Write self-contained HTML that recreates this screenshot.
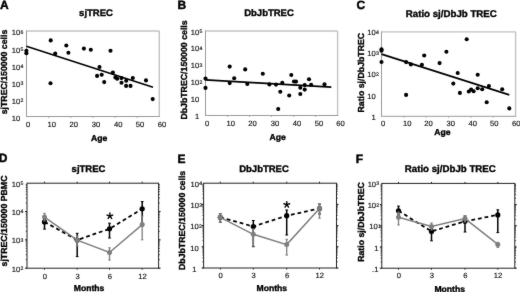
<!DOCTYPE html>
<html><head><meta charset="utf-8"><style>
html,body{margin:0;padding:0;background:#fff;}
svg{display:block;font-family:"Liberation Sans", sans-serif;text-rendering:geometricPrecision;}
</style></head><body>
<svg xmlns="http://www.w3.org/2000/svg" width="520" height="292" viewBox="0 0 520 292">
<defs><filter id="soft" color-interpolation-filters="sRGB" filterUnits="userSpaceOnUse" x="-10" y="-10" width="540" height="312"><feConvolveMatrix order="3" kernelMatrix="1 2 1 2 36 2 1 2 1" edgeMode="duplicate" preserveAlpha="true"/></filter></defs>
<rect width="520" height="292" fill="#fff"/>
<g filter="url(#soft)">
<rect x="-10" y="-10" width="540" height="312" fill="#fff"/>
<text x="0.00" y="8.50" font-size="12.0" font-weight="bold" text-anchor="start" fill="#000" stroke="#000" stroke-width="0.45">A</text>
<text x="177.60" y="8.50" font-size="12.0" font-weight="bold" text-anchor="start" fill="#000" stroke="#000" stroke-width="0.45">B</text>
<text x="356.60" y="8.50" font-size="12.0" font-weight="bold" text-anchor="start" fill="#000" stroke="#000" stroke-width="0.45">C</text>
<text x="-1.30" y="162.30" font-size="12.0" font-weight="bold" text-anchor="start" fill="#000" stroke="#000" stroke-width="0.45">D</text>
<text x="177.50" y="163.00" font-size="12.0" font-weight="bold" text-anchor="start" fill="#000" stroke="#000" stroke-width="0.45">E</text>
<text x="355.70" y="163.30" font-size="12.0" font-weight="bold" text-anchor="start" fill="#000" stroke="#000" stroke-width="0.45">F</text>
<text x="96.00" y="16.10" font-size="9.5" font-weight="bold" text-anchor="middle" fill="#000" stroke="#000" stroke-width="0.35" >sjTREC</text>
<text x="269.00" y="16.30" font-size="9.5" font-weight="bold" text-anchor="middle" fill="#000" stroke="#000" stroke-width="0.35" >DbJbTREC</text>
<text x="451.30" y="16.50" font-size="9.7" font-weight="bold" text-anchor="middle" fill="#000" stroke="#000" stroke-width="0.35" >Ratio sj/DbJb TREC</text>
<text x="88.50" y="172.10" font-size="9.5" font-weight="bold" text-anchor="middle" fill="#000" stroke="#000" stroke-width="0.35" >sjTREC</text>
<text x="264.00" y="172.00" font-size="9.5" font-weight="bold" text-anchor="middle" fill="#000" stroke="#000" stroke-width="0.35" >DbJbTREC</text>
<text x="450.30" y="172.40" font-size="9.7" font-weight="bold" text-anchor="middle" fill="#000" stroke="#000" stroke-width="0.35" >Ratio sj/DbJb TREC</text>
<text x="0" y="0" font-size="8.75" font-weight="bold" text-anchor="middle" stroke="#000" stroke-width="0.35" transform="translate(6.90,72.00) rotate(-90)">sjTREC/150000 cells</text>
<text x="0" y="0" font-size="8.75" font-weight="bold" text-anchor="middle" stroke="#000" stroke-width="0.35" transform="translate(187.40,70.00) rotate(-90)">DbJbTREC/150000 cells</text>
<text x="0" y="0" font-size="8.75" font-weight="bold" text-anchor="middle" stroke="#000" stroke-width="0.35" transform="translate(364.00,72.70) rotate(-90)">Ratio sj/DbJbTREC</text>
<text x="0" y="0" font-size="8.75" font-weight="bold" text-anchor="middle" stroke="#000" stroke-width="0.35" transform="translate(7.00,221.00) rotate(-90)">sjTREC/150000 PBMC</text>
<text x="0" y="0" font-size="8.75" font-weight="bold" text-anchor="middle" stroke="#000" stroke-width="0.35" transform="translate(185.00,220.40) rotate(-90)">DbJbTREC/150000 cells</text>
<text x="0" y="0" font-size="8.75" font-weight="bold" text-anchor="middle" stroke="#000" stroke-width="0.35" transform="translate(364.00,222.00) rotate(-90)">Ratio sj/DbJbTREC</text>
<text x="99.20" y="140.60" font-size="8.6" font-weight="bold" text-anchor="middle" fill="#000" stroke="#000" stroke-width="0.35" >Age</text>
<text x="277.70" y="139.90" font-size="8.6" font-weight="bold" text-anchor="middle" fill="#000" stroke="#000" stroke-width="0.35" >Age</text>
<text x="442.30" y="135.40" font-size="8.6" font-weight="bold" text-anchor="middle" fill="#000" stroke="#000" stroke-width="0.35" >Age</text>
<text x="89.00" y="290.80" font-size="8.6" font-weight="bold" text-anchor="middle" fill="#000" stroke="#000" stroke-width="0.35" >Months</text>
<text x="271.80" y="291.00" font-size="8.6" font-weight="bold" text-anchor="middle" fill="#000" stroke="#000" stroke-width="0.35" >Months</text>
<text x="449.70" y="291.50" font-size="8.6" font-weight="bold" text-anchor="middle" fill="#000" stroke="#000" stroke-width="0.35" >Months</text>
<line x1="26.50" y1="31.00" x2="159.30" y2="31.00" stroke="#c2c2c2" stroke-width="1.4" />
<line x1="159.30" y1="31.00" x2="159.30" y2="116.50" stroke="#c2c2c2" stroke-width="1.4" />
<line x1="26.50" y1="30.50" x2="26.50" y2="116.50" stroke="#9a9a9a" stroke-width="1" />
<line x1="26.00" y1="116.50" x2="159.80" y2="116.50" stroke="#9a9a9a" stroke-width="1" />
<line x1="48.63" y1="116.50" x2="48.63" y2="118.00" stroke="#9a9a9a" stroke-width="0.8" />
<line x1="70.77" y1="116.50" x2="70.77" y2="118.00" stroke="#9a9a9a" stroke-width="0.8" />
<line x1="92.90" y1="116.50" x2="92.90" y2="118.00" stroke="#9a9a9a" stroke-width="0.8" />
<line x1="115.03" y1="116.50" x2="115.03" y2="118.00" stroke="#9a9a9a" stroke-width="0.8" />
<line x1="137.17" y1="116.50" x2="137.17" y2="118.00" stroke="#9a9a9a" stroke-width="0.8" />
<line x1="205.50" y1="31.00" x2="337.60" y2="31.00" stroke="#c2c2c2" stroke-width="1.4" />
<line x1="337.60" y1="31.00" x2="337.60" y2="115.50" stroke="#c2c2c2" stroke-width="1.4" />
<line x1="205.50" y1="30.50" x2="205.50" y2="115.50" stroke="#9a9a9a" stroke-width="1" />
<line x1="205.00" y1="115.50" x2="338.10" y2="115.50" stroke="#9a9a9a" stroke-width="1" />
<line x1="227.52" y1="115.50" x2="227.52" y2="117.00" stroke="#9a9a9a" stroke-width="0.8" />
<line x1="249.53" y1="115.50" x2="249.53" y2="117.00" stroke="#9a9a9a" stroke-width="0.8" />
<line x1="271.55" y1="115.50" x2="271.55" y2="117.00" stroke="#9a9a9a" stroke-width="0.8" />
<line x1="293.57" y1="115.50" x2="293.57" y2="117.00" stroke="#9a9a9a" stroke-width="0.8" />
<line x1="315.58" y1="115.50" x2="315.58" y2="117.00" stroke="#9a9a9a" stroke-width="0.8" />
<line x1="381.50" y1="31.90" x2="515.60" y2="31.90" stroke="#c2c2c2" stroke-width="1.4" />
<line x1="515.60" y1="31.90" x2="515.60" y2="116.30" stroke="#c2c2c2" stroke-width="1.4" />
<line x1="381.50" y1="31.40" x2="381.50" y2="116.30" stroke="#9a9a9a" stroke-width="1" />
<line x1="381.00" y1="116.30" x2="516.10" y2="116.30" stroke="#9a9a9a" stroke-width="1" />
<line x1="403.85" y1="116.30" x2="403.85" y2="117.80" stroke="#9a9a9a" stroke-width="0.8" />
<line x1="426.20" y1="116.30" x2="426.20" y2="117.80" stroke="#9a9a9a" stroke-width="0.8" />
<line x1="448.55" y1="116.30" x2="448.55" y2="117.80" stroke="#9a9a9a" stroke-width="0.8" />
<line x1="470.90" y1="116.30" x2="470.90" y2="117.80" stroke="#9a9a9a" stroke-width="0.8" />
<line x1="493.25" y1="116.30" x2="493.25" y2="117.80" stroke="#9a9a9a" stroke-width="0.8" />
<text x="28.10" y="126.60" font-size="7.6" text-anchor="middle" fill="#111" stroke="#111" stroke-width="0.15" >0</text>
<text x="51.85" y="126.60" font-size="7.6" text-anchor="middle" fill="#111" stroke="#111" stroke-width="0.15" >10</text>
<text x="73.70" y="126.60" font-size="7.6" text-anchor="middle" fill="#111" stroke="#111" stroke-width="0.15" >20</text>
<text x="96.10" y="126.60" font-size="7.6" text-anchor="middle" fill="#111" stroke="#111" stroke-width="0.15" >30</text>
<text x="118.20" y="126.60" font-size="7.6" text-anchor="middle" fill="#111" stroke="#111" stroke-width="0.15" >40</text>
<text x="140.00" y="126.60" font-size="7.6" text-anchor="middle" fill="#111" stroke="#111" stroke-width="0.15" >50</text>
<text x="162.00" y="126.60" font-size="7.6" text-anchor="middle" fill="#111" stroke="#111" stroke-width="0.15" >60</text>
<text x="207.15" y="126.10" font-size="7.6" text-anchor="middle" fill="#111" stroke="#111" stroke-width="0.15" >0</text>
<text x="230.80" y="126.10" font-size="7.6" text-anchor="middle" fill="#111" stroke="#111" stroke-width="0.15" >10</text>
<text x="252.50" y="126.10" font-size="7.6" text-anchor="middle" fill="#111" stroke="#111" stroke-width="0.15" >20</text>
<text x="275.00" y="126.10" font-size="7.6" text-anchor="middle" fill="#111" stroke="#111" stroke-width="0.15" >30</text>
<text x="296.90" y="126.10" font-size="7.6" text-anchor="middle" fill="#111" stroke="#111" stroke-width="0.15" >40</text>
<text x="319.10" y="126.10" font-size="7.6" text-anchor="middle" fill="#111" stroke="#111" stroke-width="0.15" >50</text>
<text x="340.60" y="126.10" font-size="7.6" text-anchor="middle" fill="#111" stroke="#111" stroke-width="0.15" >60</text>
<text x="383.10" y="125.90" font-size="7.6" text-anchor="middle" fill="#111" stroke="#111" stroke-width="0.15" >0</text>
<text x="407.20" y="125.90" font-size="7.6" text-anchor="middle" fill="#111" stroke="#111" stroke-width="0.15" >10</text>
<text x="428.40" y="125.90" font-size="7.6" text-anchor="middle" fill="#111" stroke="#111" stroke-width="0.15" >20</text>
<text x="450.80" y="125.90" font-size="7.6" text-anchor="middle" fill="#111" stroke="#111" stroke-width="0.15" >30</text>
<text x="472.70" y="125.90" font-size="7.6" text-anchor="middle" fill="#111" stroke="#111" stroke-width="0.15" >40</text>
<text x="494.20" y="125.90" font-size="7.6" text-anchor="middle" fill="#111" stroke="#111" stroke-width="0.15" >50</text>
<text x="516.20" y="125.90" font-size="7.6" text-anchor="middle" fill="#111" stroke="#111" stroke-width="0.15" >60</text>
<text x="20.20" y="35.40" font-size="7.6" text-anchor="end" fill="#111" stroke="#111" stroke-width="0.15" >10</text>
<text x="20.40" y="33.90" font-size="5.2" text-anchor="start" fill="#111" stroke="#111" stroke-width="0.15" >6</text>
<text x="20.20" y="52.50" font-size="7.6" text-anchor="end" fill="#111" stroke="#111" stroke-width="0.15" >10</text>
<text x="20.40" y="51.00" font-size="5.2" text-anchor="start" fill="#111" stroke="#111" stroke-width="0.15" >5</text>
<text x="20.20" y="69.60" font-size="7.6" text-anchor="end" fill="#111" stroke="#111" stroke-width="0.15" >10</text>
<text x="20.40" y="68.10" font-size="5.2" text-anchor="start" fill="#111" stroke="#111" stroke-width="0.15" >4</text>
<text x="20.20" y="86.70" font-size="7.6" text-anchor="end" fill="#111" stroke="#111" stroke-width="0.15" >10</text>
<text x="20.40" y="85.20" font-size="5.2" text-anchor="start" fill="#111" stroke="#111" stroke-width="0.15" >3</text>
<text x="20.20" y="103.80" font-size="7.6" text-anchor="end" fill="#111" stroke="#111" stroke-width="0.15" >10</text>
<text x="20.40" y="102.30" font-size="5.2" text-anchor="start" fill="#111" stroke="#111" stroke-width="0.15" >2</text>
<text x="20.20" y="120.90" font-size="7.6" text-anchor="end" fill="#111" stroke="#111" stroke-width="0.15" >10</text>
<text x="199.20" y="34.50" font-size="7.6" text-anchor="end" fill="#111" stroke="#111" stroke-width="0.15" >10</text>
<text x="199.40" y="33.00" font-size="5.2" text-anchor="start" fill="#111" stroke="#111" stroke-width="0.15" >5</text>
<text x="199.20" y="51.40" font-size="7.6" text-anchor="end" fill="#111" stroke="#111" stroke-width="0.15" >10</text>
<text x="199.40" y="49.90" font-size="5.2" text-anchor="start" fill="#111" stroke="#111" stroke-width="0.15" >4</text>
<text x="199.20" y="68.30" font-size="7.6" text-anchor="end" fill="#111" stroke="#111" stroke-width="0.15" >10</text>
<text x="199.40" y="66.80" font-size="5.2" text-anchor="start" fill="#111" stroke="#111" stroke-width="0.15" >3</text>
<text x="199.20" y="85.20" font-size="7.6" text-anchor="end" fill="#111" stroke="#111" stroke-width="0.15" >10</text>
<text x="199.40" y="83.70" font-size="5.2" text-anchor="start" fill="#111" stroke="#111" stroke-width="0.15" >2</text>
<text x="199.20" y="102.10" font-size="7.6" text-anchor="end" fill="#111" stroke="#111" stroke-width="0.15" >10</text>
<text x="199.20" y="119.00" font-size="7.6" text-anchor="end" fill="#111" stroke="#111" stroke-width="0.15" >1</text>
<text x="375.80" y="35.20" font-size="7.6" text-anchor="end" fill="#111" stroke="#111" stroke-width="0.15" >10</text>
<text x="376.00" y="33.70" font-size="5.2" text-anchor="start" fill="#111" stroke="#111" stroke-width="0.15" >4</text>
<text x="375.80" y="56.30" font-size="7.6" text-anchor="end" fill="#111" stroke="#111" stroke-width="0.15" >10</text>
<text x="376.00" y="54.80" font-size="5.2" text-anchor="start" fill="#111" stroke="#111" stroke-width="0.15" >3</text>
<text x="375.80" y="77.40" font-size="7.6" text-anchor="end" fill="#111" stroke="#111" stroke-width="0.15" >10</text>
<text x="376.00" y="75.90" font-size="5.2" text-anchor="start" fill="#111" stroke="#111" stroke-width="0.15" >2</text>
<text x="375.80" y="98.50" font-size="7.6" text-anchor="end" fill="#111" stroke="#111" stroke-width="0.15" >10</text>
<text x="375.80" y="119.60" font-size="7.6" text-anchor="end" fill="#111" stroke="#111" stroke-width="0.15" >1</text>
<circle cx="26.40" cy="50.80" r="2.05" fill="#000"/>
<circle cx="26.40" cy="53.20" r="2.05" fill="#000"/>
<circle cx="50.70" cy="40.40" r="2.05" fill="#000"/>
<circle cx="50.50" cy="83.30" r="2.05" fill="#000"/>
<circle cx="55.20" cy="53.60" r="2.05" fill="#000"/>
<circle cx="66.30" cy="45.50" r="2.05" fill="#000"/>
<circle cx="68.40" cy="52.80" r="2.05" fill="#000"/>
<circle cx="83.90" cy="48.60" r="2.05" fill="#000"/>
<circle cx="90.80" cy="49.80" r="2.05" fill="#000"/>
<circle cx="97.10" cy="75.90" r="2.05" fill="#000"/>
<circle cx="99.50" cy="67.00" r="2.05" fill="#000"/>
<circle cx="101.70" cy="74.70" r="2.05" fill="#000"/>
<circle cx="104.20" cy="82.10" r="2.05" fill="#000"/>
<circle cx="110.50" cy="50.80" r="2.05" fill="#000"/>
<circle cx="112.90" cy="72.50" r="2.05" fill="#000"/>
<circle cx="115.40" cy="77.40" r="2.05" fill="#000"/>
<circle cx="117.20" cy="78.80" r="2.05" fill="#000"/>
<circle cx="121.40" cy="78.10" r="2.05" fill="#000"/>
<circle cx="121.50" cy="82.80" r="2.05" fill="#000"/>
<circle cx="126.20" cy="80.70" r="2.05" fill="#000"/>
<circle cx="126.10" cy="85.90" r="2.05" fill="#000"/>
<circle cx="130.50" cy="85.90" r="2.05" fill="#000"/>
<circle cx="132.80" cy="78.00" r="2.05" fill="#000"/>
<circle cx="146.00" cy="80.40" r="2.05" fill="#000"/>
<circle cx="152.70" cy="99.10" r="2.05" fill="#000"/>
<circle cx="205.50" cy="78.60" r="2.05" fill="#000"/>
<circle cx="205.50" cy="87.90" r="2.05" fill="#000"/>
<circle cx="229.70" cy="66.60" r="2.05" fill="#000"/>
<circle cx="229.70" cy="83.10" r="2.05" fill="#000"/>
<circle cx="234.20" cy="78.30" r="2.05" fill="#000"/>
<circle cx="245.20" cy="69.40" r="2.05" fill="#000"/>
<circle cx="247.30" cy="84.00" r="2.05" fill="#000"/>
<circle cx="262.80" cy="73.70" r="2.05" fill="#000"/>
<circle cx="269.40" cy="84.40" r="2.05" fill="#000"/>
<circle cx="276.00" cy="84.60" r="2.05" fill="#000"/>
<circle cx="278.20" cy="109.00" r="2.05" fill="#000"/>
<circle cx="280.30" cy="91.70" r="2.05" fill="#000"/>
<circle cx="282.30" cy="82.80" r="2.05" fill="#000"/>
<circle cx="289.20" cy="95.50" r="2.05" fill="#000"/>
<circle cx="291.30" cy="75.00" r="2.05" fill="#000"/>
<circle cx="294.00" cy="81.50" r="2.05" fill="#000"/>
<circle cx="296.00" cy="81.60" r="2.05" fill="#000"/>
<circle cx="300.30" cy="87.70" r="2.05" fill="#000"/>
<circle cx="300.30" cy="94.00" r="2.05" fill="#000"/>
<circle cx="304.70" cy="85.10" r="2.05" fill="#000"/>
<circle cx="304.70" cy="89.60" r="2.05" fill="#000"/>
<circle cx="309.00" cy="79.30" r="2.05" fill="#000"/>
<circle cx="311.10" cy="84.80" r="2.05" fill="#000"/>
<circle cx="324.50" cy="84.20" r="2.05" fill="#000"/>
<circle cx="381.50" cy="49.30" r="2.05" fill="#000"/>
<circle cx="381.50" cy="50.70" r="2.05" fill="#000"/>
<circle cx="381.50" cy="62.00" r="2.05" fill="#000"/>
<circle cx="406.10" cy="62.10" r="2.05" fill="#000"/>
<circle cx="410.90" cy="64.40" r="2.05" fill="#000"/>
<circle cx="421.90" cy="64.70" r="2.05" fill="#000"/>
<circle cx="424.20" cy="55.50" r="2.05" fill="#000"/>
<circle cx="406.10" cy="94.90" r="2.05" fill="#000"/>
<circle cx="439.60" cy="63.10" r="2.05" fill="#000"/>
<circle cx="446.40" cy="51.80" r="2.05" fill="#000"/>
<circle cx="466.70" cy="39.30" r="2.05" fill="#000"/>
<circle cx="457.70" cy="73.00" r="2.05" fill="#000"/>
<circle cx="453.30" cy="83.60" r="2.05" fill="#000"/>
<circle cx="459.90" cy="92.90" r="2.05" fill="#000"/>
<circle cx="468.80" cy="91.50" r="2.05" fill="#000"/>
<circle cx="471.10" cy="89.50" r="2.05" fill="#000"/>
<circle cx="473.60" cy="91.20" r="2.05" fill="#000"/>
<circle cx="477.70" cy="74.80" r="2.05" fill="#000"/>
<circle cx="477.70" cy="88.30" r="2.05" fill="#000"/>
<circle cx="482.20" cy="89.20" r="2.05" fill="#000"/>
<circle cx="488.90" cy="86.10" r="2.05" fill="#000"/>
<circle cx="502.20" cy="89.30" r="2.05" fill="#000"/>
<circle cx="486.70" cy="102.20" r="2.05" fill="#000"/>
<circle cx="509.30" cy="108.40" r="2.05" fill="#000"/>
<line x1="26.40" y1="46.30" x2="153.00" y2="87.30" stroke="#000" stroke-width="1.7" />
<line x1="205.50" y1="79.90" x2="331.30" y2="87.10" stroke="#000" stroke-width="1.7" />
<line x1="381.50" y1="54.10" x2="509.30" y2="94.90" stroke="#000" stroke-width="1.7" />
<rect x="27.00" y="183.20" width="131.60" height="85.00" fill="none" stroke="#222" stroke-width="1"/>
<line x1="25.80" y1="268.20" x2="27.00" y2="268.20" stroke="#222" stroke-width="0.8" />
<line x1="158.60" y1="268.20" x2="159.80" y2="268.20" stroke="#222" stroke-width="0.8" />
<line x1="25.80" y1="259.67" x2="27.00" y2="259.67" stroke="#222" stroke-width="0.8" />
<line x1="158.60" y1="259.67" x2="159.80" y2="259.67" stroke="#222" stroke-width="0.8" />
<line x1="25.80" y1="254.68" x2="27.00" y2="254.68" stroke="#222" stroke-width="0.8" />
<line x1="158.60" y1="254.68" x2="159.80" y2="254.68" stroke="#222" stroke-width="0.8" />
<line x1="25.80" y1="251.14" x2="27.00" y2="251.14" stroke="#222" stroke-width="0.8" />
<line x1="158.60" y1="251.14" x2="159.80" y2="251.14" stroke="#222" stroke-width="0.8" />
<line x1="25.80" y1="248.40" x2="27.00" y2="248.40" stroke="#222" stroke-width="0.8" />
<line x1="158.60" y1="248.40" x2="159.80" y2="248.40" stroke="#222" stroke-width="0.8" />
<line x1="25.80" y1="246.15" x2="27.00" y2="246.15" stroke="#222" stroke-width="0.8" />
<line x1="158.60" y1="246.15" x2="159.80" y2="246.15" stroke="#222" stroke-width="0.8" />
<line x1="25.80" y1="244.26" x2="27.00" y2="244.26" stroke="#222" stroke-width="0.8" />
<line x1="158.60" y1="244.26" x2="159.80" y2="244.26" stroke="#222" stroke-width="0.8" />
<line x1="25.80" y1="242.61" x2="27.00" y2="242.61" stroke="#222" stroke-width="0.8" />
<line x1="158.60" y1="242.61" x2="159.80" y2="242.61" stroke="#222" stroke-width="0.8" />
<line x1="25.80" y1="241.16" x2="27.00" y2="241.16" stroke="#222" stroke-width="0.8" />
<line x1="158.60" y1="241.16" x2="159.80" y2="241.16" stroke="#222" stroke-width="0.8" />
<line x1="25.00" y1="268.20" x2="27.00" y2="268.20" stroke="#222" stroke-width="1" />
<line x1="158.60" y1="268.20" x2="160.60" y2="268.20" stroke="#222" stroke-width="1" />
<line x1="25.80" y1="239.87" x2="27.00" y2="239.87" stroke="#222" stroke-width="0.8" />
<line x1="158.60" y1="239.87" x2="159.80" y2="239.87" stroke="#222" stroke-width="0.8" />
<line x1="25.80" y1="231.34" x2="27.00" y2="231.34" stroke="#222" stroke-width="0.8" />
<line x1="158.60" y1="231.34" x2="159.80" y2="231.34" stroke="#222" stroke-width="0.8" />
<line x1="25.80" y1="226.35" x2="27.00" y2="226.35" stroke="#222" stroke-width="0.8" />
<line x1="158.60" y1="226.35" x2="159.80" y2="226.35" stroke="#222" stroke-width="0.8" />
<line x1="25.80" y1="222.81" x2="27.00" y2="222.81" stroke="#222" stroke-width="0.8" />
<line x1="158.60" y1="222.81" x2="159.80" y2="222.81" stroke="#222" stroke-width="0.8" />
<line x1="25.80" y1="220.06" x2="27.00" y2="220.06" stroke="#222" stroke-width="0.8" />
<line x1="158.60" y1="220.06" x2="159.80" y2="220.06" stroke="#222" stroke-width="0.8" />
<line x1="25.80" y1="217.82" x2="27.00" y2="217.82" stroke="#222" stroke-width="0.8" />
<line x1="158.60" y1="217.82" x2="159.80" y2="217.82" stroke="#222" stroke-width="0.8" />
<line x1="25.80" y1="215.92" x2="27.00" y2="215.92" stroke="#222" stroke-width="0.8" />
<line x1="158.60" y1="215.92" x2="159.80" y2="215.92" stroke="#222" stroke-width="0.8" />
<line x1="25.80" y1="214.28" x2="27.00" y2="214.28" stroke="#222" stroke-width="0.8" />
<line x1="158.60" y1="214.28" x2="159.80" y2="214.28" stroke="#222" stroke-width="0.8" />
<line x1="25.80" y1="212.83" x2="27.00" y2="212.83" stroke="#222" stroke-width="0.8" />
<line x1="158.60" y1="212.83" x2="159.80" y2="212.83" stroke="#222" stroke-width="0.8" />
<line x1="25.00" y1="239.87" x2="27.00" y2="239.87" stroke="#222" stroke-width="1" />
<line x1="158.60" y1="239.87" x2="160.60" y2="239.87" stroke="#222" stroke-width="1" />
<line x1="25.80" y1="211.53" x2="27.00" y2="211.53" stroke="#222" stroke-width="0.8" />
<line x1="158.60" y1="211.53" x2="159.80" y2="211.53" stroke="#222" stroke-width="0.8" />
<line x1="25.80" y1="203.00" x2="27.00" y2="203.00" stroke="#222" stroke-width="0.8" />
<line x1="158.60" y1="203.00" x2="159.80" y2="203.00" stroke="#222" stroke-width="0.8" />
<line x1="25.80" y1="198.01" x2="27.00" y2="198.01" stroke="#222" stroke-width="0.8" />
<line x1="158.60" y1="198.01" x2="159.80" y2="198.01" stroke="#222" stroke-width="0.8" />
<line x1="25.80" y1="194.47" x2="27.00" y2="194.47" stroke="#222" stroke-width="0.8" />
<line x1="158.60" y1="194.47" x2="159.80" y2="194.47" stroke="#222" stroke-width="0.8" />
<line x1="25.80" y1="191.73" x2="27.00" y2="191.73" stroke="#222" stroke-width="0.8" />
<line x1="158.60" y1="191.73" x2="159.80" y2="191.73" stroke="#222" stroke-width="0.8" />
<line x1="25.80" y1="189.49" x2="27.00" y2="189.49" stroke="#222" stroke-width="0.8" />
<line x1="158.60" y1="189.49" x2="159.80" y2="189.49" stroke="#222" stroke-width="0.8" />
<line x1="25.80" y1="187.59" x2="27.00" y2="187.59" stroke="#222" stroke-width="0.8" />
<line x1="158.60" y1="187.59" x2="159.80" y2="187.59" stroke="#222" stroke-width="0.8" />
<line x1="25.80" y1="185.95" x2="27.00" y2="185.95" stroke="#222" stroke-width="0.8" />
<line x1="158.60" y1="185.95" x2="159.80" y2="185.95" stroke="#222" stroke-width="0.8" />
<line x1="25.80" y1="184.50" x2="27.00" y2="184.50" stroke="#222" stroke-width="0.8" />
<line x1="158.60" y1="184.50" x2="159.80" y2="184.50" stroke="#222" stroke-width="0.8" />
<line x1="25.00" y1="211.53" x2="27.00" y2="211.53" stroke="#222" stroke-width="1" />
<line x1="158.60" y1="211.53" x2="160.60" y2="211.53" stroke="#222" stroke-width="1" />
<line x1="44.50" y1="268.20" x2="44.50" y2="269.70" stroke="#222" stroke-width="1" />
<line x1="44.50" y1="181.70" x2="44.50" y2="183.20" stroke="#222" stroke-width="1" />
<line x1="77.20" y1="268.20" x2="77.20" y2="269.70" stroke="#222" stroke-width="1" />
<line x1="77.20" y1="181.70" x2="77.20" y2="183.20" stroke="#222" stroke-width="1" />
<line x1="109.50" y1="268.20" x2="109.50" y2="269.70" stroke="#222" stroke-width="1" />
<line x1="109.50" y1="181.70" x2="109.50" y2="183.20" stroke="#222" stroke-width="1" />
<line x1="142.20" y1="268.20" x2="142.20" y2="269.70" stroke="#222" stroke-width="1" />
<line x1="142.20" y1="181.70" x2="142.20" y2="183.20" stroke="#222" stroke-width="1" />
<rect x="203.60" y="183.20" width="132.90" height="84.80" fill="none" stroke="#222" stroke-width="1"/>
<line x1="202.40" y1="268.00" x2="203.60" y2="268.00" stroke="#222" stroke-width="0.8" />
<line x1="336.50" y1="268.00" x2="337.70" y2="268.00" stroke="#222" stroke-width="0.8" />
<line x1="202.40" y1="261.62" x2="203.60" y2="261.62" stroke="#222" stroke-width="0.8" />
<line x1="336.50" y1="261.62" x2="337.70" y2="261.62" stroke="#222" stroke-width="0.8" />
<line x1="202.40" y1="257.89" x2="203.60" y2="257.89" stroke="#222" stroke-width="0.8" />
<line x1="336.50" y1="257.89" x2="337.70" y2="257.89" stroke="#222" stroke-width="0.8" />
<line x1="202.40" y1="255.24" x2="203.60" y2="255.24" stroke="#222" stroke-width="0.8" />
<line x1="336.50" y1="255.24" x2="337.70" y2="255.24" stroke="#222" stroke-width="0.8" />
<line x1="202.40" y1="253.18" x2="203.60" y2="253.18" stroke="#222" stroke-width="0.8" />
<line x1="336.50" y1="253.18" x2="337.70" y2="253.18" stroke="#222" stroke-width="0.8" />
<line x1="202.40" y1="251.50" x2="203.60" y2="251.50" stroke="#222" stroke-width="0.8" />
<line x1="336.50" y1="251.50" x2="337.70" y2="251.50" stroke="#222" stroke-width="0.8" />
<line x1="202.40" y1="250.08" x2="203.60" y2="250.08" stroke="#222" stroke-width="0.8" />
<line x1="336.50" y1="250.08" x2="337.70" y2="250.08" stroke="#222" stroke-width="0.8" />
<line x1="202.40" y1="248.85" x2="203.60" y2="248.85" stroke="#222" stroke-width="0.8" />
<line x1="336.50" y1="248.85" x2="337.70" y2="248.85" stroke="#222" stroke-width="0.8" />
<line x1="202.40" y1="247.77" x2="203.60" y2="247.77" stroke="#222" stroke-width="0.8" />
<line x1="336.50" y1="247.77" x2="337.70" y2="247.77" stroke="#222" stroke-width="0.8" />
<line x1="201.60" y1="268.00" x2="203.60" y2="268.00" stroke="#222" stroke-width="1" />
<line x1="336.50" y1="268.00" x2="338.50" y2="268.00" stroke="#222" stroke-width="1" />
<line x1="202.40" y1="246.80" x2="203.60" y2="246.80" stroke="#222" stroke-width="0.8" />
<line x1="336.50" y1="246.80" x2="337.70" y2="246.80" stroke="#222" stroke-width="0.8" />
<line x1="202.40" y1="240.42" x2="203.60" y2="240.42" stroke="#222" stroke-width="0.8" />
<line x1="336.50" y1="240.42" x2="337.70" y2="240.42" stroke="#222" stroke-width="0.8" />
<line x1="202.40" y1="236.69" x2="203.60" y2="236.69" stroke="#222" stroke-width="0.8" />
<line x1="336.50" y1="236.69" x2="337.70" y2="236.69" stroke="#222" stroke-width="0.8" />
<line x1="202.40" y1="234.04" x2="203.60" y2="234.04" stroke="#222" stroke-width="0.8" />
<line x1="336.50" y1="234.04" x2="337.70" y2="234.04" stroke="#222" stroke-width="0.8" />
<line x1="202.40" y1="231.98" x2="203.60" y2="231.98" stroke="#222" stroke-width="0.8" />
<line x1="336.50" y1="231.98" x2="337.70" y2="231.98" stroke="#222" stroke-width="0.8" />
<line x1="202.40" y1="230.30" x2="203.60" y2="230.30" stroke="#222" stroke-width="0.8" />
<line x1="336.50" y1="230.30" x2="337.70" y2="230.30" stroke="#222" stroke-width="0.8" />
<line x1="202.40" y1="228.88" x2="203.60" y2="228.88" stroke="#222" stroke-width="0.8" />
<line x1="336.50" y1="228.88" x2="337.70" y2="228.88" stroke="#222" stroke-width="0.8" />
<line x1="202.40" y1="227.65" x2="203.60" y2="227.65" stroke="#222" stroke-width="0.8" />
<line x1="336.50" y1="227.65" x2="337.70" y2="227.65" stroke="#222" stroke-width="0.8" />
<line x1="202.40" y1="226.57" x2="203.60" y2="226.57" stroke="#222" stroke-width="0.8" />
<line x1="336.50" y1="226.57" x2="337.70" y2="226.57" stroke="#222" stroke-width="0.8" />
<line x1="201.60" y1="246.80" x2="203.60" y2="246.80" stroke="#222" stroke-width="1" />
<line x1="336.50" y1="246.80" x2="338.50" y2="246.80" stroke="#222" stroke-width="1" />
<line x1="202.40" y1="225.60" x2="203.60" y2="225.60" stroke="#222" stroke-width="0.8" />
<line x1="336.50" y1="225.60" x2="337.70" y2="225.60" stroke="#222" stroke-width="0.8" />
<line x1="202.40" y1="219.22" x2="203.60" y2="219.22" stroke="#222" stroke-width="0.8" />
<line x1="336.50" y1="219.22" x2="337.70" y2="219.22" stroke="#222" stroke-width="0.8" />
<line x1="202.40" y1="215.49" x2="203.60" y2="215.49" stroke="#222" stroke-width="0.8" />
<line x1="336.50" y1="215.49" x2="337.70" y2="215.49" stroke="#222" stroke-width="0.8" />
<line x1="202.40" y1="212.84" x2="203.60" y2="212.84" stroke="#222" stroke-width="0.8" />
<line x1="336.50" y1="212.84" x2="337.70" y2="212.84" stroke="#222" stroke-width="0.8" />
<line x1="202.40" y1="210.78" x2="203.60" y2="210.78" stroke="#222" stroke-width="0.8" />
<line x1="336.50" y1="210.78" x2="337.70" y2="210.78" stroke="#222" stroke-width="0.8" />
<line x1="202.40" y1="209.10" x2="203.60" y2="209.10" stroke="#222" stroke-width="0.8" />
<line x1="336.50" y1="209.10" x2="337.70" y2="209.10" stroke="#222" stroke-width="0.8" />
<line x1="202.40" y1="207.68" x2="203.60" y2="207.68" stroke="#222" stroke-width="0.8" />
<line x1="336.50" y1="207.68" x2="337.70" y2="207.68" stroke="#222" stroke-width="0.8" />
<line x1="202.40" y1="206.45" x2="203.60" y2="206.45" stroke="#222" stroke-width="0.8" />
<line x1="336.50" y1="206.45" x2="337.70" y2="206.45" stroke="#222" stroke-width="0.8" />
<line x1="202.40" y1="205.37" x2="203.60" y2="205.37" stroke="#222" stroke-width="0.8" />
<line x1="336.50" y1="205.37" x2="337.70" y2="205.37" stroke="#222" stroke-width="0.8" />
<line x1="201.60" y1="225.60" x2="203.60" y2="225.60" stroke="#222" stroke-width="1" />
<line x1="336.50" y1="225.60" x2="338.50" y2="225.60" stroke="#222" stroke-width="1" />
<line x1="202.40" y1="204.40" x2="203.60" y2="204.40" stroke="#222" stroke-width="0.8" />
<line x1="336.50" y1="204.40" x2="337.70" y2="204.40" stroke="#222" stroke-width="0.8" />
<line x1="202.40" y1="198.02" x2="203.60" y2="198.02" stroke="#222" stroke-width="0.8" />
<line x1="336.50" y1="198.02" x2="337.70" y2="198.02" stroke="#222" stroke-width="0.8" />
<line x1="202.40" y1="194.29" x2="203.60" y2="194.29" stroke="#222" stroke-width="0.8" />
<line x1="336.50" y1="194.29" x2="337.70" y2="194.29" stroke="#222" stroke-width="0.8" />
<line x1="202.40" y1="191.64" x2="203.60" y2="191.64" stroke="#222" stroke-width="0.8" />
<line x1="336.50" y1="191.64" x2="337.70" y2="191.64" stroke="#222" stroke-width="0.8" />
<line x1="202.40" y1="189.58" x2="203.60" y2="189.58" stroke="#222" stroke-width="0.8" />
<line x1="336.50" y1="189.58" x2="337.70" y2="189.58" stroke="#222" stroke-width="0.8" />
<line x1="202.40" y1="187.90" x2="203.60" y2="187.90" stroke="#222" stroke-width="0.8" />
<line x1="336.50" y1="187.90" x2="337.70" y2="187.90" stroke="#222" stroke-width="0.8" />
<line x1="202.40" y1="186.48" x2="203.60" y2="186.48" stroke="#222" stroke-width="0.8" />
<line x1="336.50" y1="186.48" x2="337.70" y2="186.48" stroke="#222" stroke-width="0.8" />
<line x1="202.40" y1="185.25" x2="203.60" y2="185.25" stroke="#222" stroke-width="0.8" />
<line x1="336.50" y1="185.25" x2="337.70" y2="185.25" stroke="#222" stroke-width="0.8" />
<line x1="202.40" y1="184.17" x2="203.60" y2="184.17" stroke="#222" stroke-width="0.8" />
<line x1="336.50" y1="184.17" x2="337.70" y2="184.17" stroke="#222" stroke-width="0.8" />
<line x1="201.60" y1="204.40" x2="203.60" y2="204.40" stroke="#222" stroke-width="1" />
<line x1="336.50" y1="204.40" x2="338.50" y2="204.40" stroke="#222" stroke-width="1" />
<line x1="220.30" y1="268.00" x2="220.30" y2="269.50" stroke="#222" stroke-width="1" />
<line x1="220.30" y1="181.70" x2="220.30" y2="183.20" stroke="#222" stroke-width="1" />
<line x1="253.30" y1="268.00" x2="253.30" y2="269.50" stroke="#222" stroke-width="1" />
<line x1="253.30" y1="181.70" x2="253.30" y2="183.20" stroke="#222" stroke-width="1" />
<line x1="286.70" y1="268.00" x2="286.70" y2="269.50" stroke="#222" stroke-width="1" />
<line x1="286.70" y1="181.70" x2="286.70" y2="183.20" stroke="#222" stroke-width="1" />
<line x1="319.50" y1="268.00" x2="319.50" y2="269.50" stroke="#222" stroke-width="1" />
<line x1="319.50" y1="181.70" x2="319.50" y2="183.20" stroke="#222" stroke-width="1" />
<rect x="381.80" y="183.40" width="133.00" height="84.80" fill="none" stroke="#222" stroke-width="1"/>
<line x1="380.60" y1="268.20" x2="381.80" y2="268.20" stroke="#222" stroke-width="0.8" />
<line x1="514.80" y1="268.20" x2="516.00" y2="268.20" stroke="#222" stroke-width="0.8" />
<line x1="380.60" y1="261.82" x2="381.80" y2="261.82" stroke="#222" stroke-width="0.8" />
<line x1="514.80" y1="261.82" x2="516.00" y2="261.82" stroke="#222" stroke-width="0.8" />
<line x1="380.60" y1="258.09" x2="381.80" y2="258.09" stroke="#222" stroke-width="0.8" />
<line x1="514.80" y1="258.09" x2="516.00" y2="258.09" stroke="#222" stroke-width="0.8" />
<line x1="380.60" y1="255.44" x2="381.80" y2="255.44" stroke="#222" stroke-width="0.8" />
<line x1="514.80" y1="255.44" x2="516.00" y2="255.44" stroke="#222" stroke-width="0.8" />
<line x1="380.60" y1="253.38" x2="381.80" y2="253.38" stroke="#222" stroke-width="0.8" />
<line x1="514.80" y1="253.38" x2="516.00" y2="253.38" stroke="#222" stroke-width="0.8" />
<line x1="380.60" y1="251.70" x2="381.80" y2="251.70" stroke="#222" stroke-width="0.8" />
<line x1="514.80" y1="251.70" x2="516.00" y2="251.70" stroke="#222" stroke-width="0.8" />
<line x1="380.60" y1="250.28" x2="381.80" y2="250.28" stroke="#222" stroke-width="0.8" />
<line x1="514.80" y1="250.28" x2="516.00" y2="250.28" stroke="#222" stroke-width="0.8" />
<line x1="380.60" y1="249.05" x2="381.80" y2="249.05" stroke="#222" stroke-width="0.8" />
<line x1="514.80" y1="249.05" x2="516.00" y2="249.05" stroke="#222" stroke-width="0.8" />
<line x1="380.60" y1="247.97" x2="381.80" y2="247.97" stroke="#222" stroke-width="0.8" />
<line x1="514.80" y1="247.97" x2="516.00" y2="247.97" stroke="#222" stroke-width="0.8" />
<line x1="379.80" y1="268.20" x2="381.80" y2="268.20" stroke="#222" stroke-width="1" />
<line x1="514.80" y1="268.20" x2="516.80" y2="268.20" stroke="#222" stroke-width="1" />
<line x1="380.60" y1="247.00" x2="381.80" y2="247.00" stroke="#222" stroke-width="0.8" />
<line x1="514.80" y1="247.00" x2="516.00" y2="247.00" stroke="#222" stroke-width="0.8" />
<line x1="380.60" y1="240.62" x2="381.80" y2="240.62" stroke="#222" stroke-width="0.8" />
<line x1="514.80" y1="240.62" x2="516.00" y2="240.62" stroke="#222" stroke-width="0.8" />
<line x1="380.60" y1="236.89" x2="381.80" y2="236.89" stroke="#222" stroke-width="0.8" />
<line x1="514.80" y1="236.89" x2="516.00" y2="236.89" stroke="#222" stroke-width="0.8" />
<line x1="380.60" y1="234.24" x2="381.80" y2="234.24" stroke="#222" stroke-width="0.8" />
<line x1="514.80" y1="234.24" x2="516.00" y2="234.24" stroke="#222" stroke-width="0.8" />
<line x1="380.60" y1="232.18" x2="381.80" y2="232.18" stroke="#222" stroke-width="0.8" />
<line x1="514.80" y1="232.18" x2="516.00" y2="232.18" stroke="#222" stroke-width="0.8" />
<line x1="380.60" y1="230.50" x2="381.80" y2="230.50" stroke="#222" stroke-width="0.8" />
<line x1="514.80" y1="230.50" x2="516.00" y2="230.50" stroke="#222" stroke-width="0.8" />
<line x1="380.60" y1="229.08" x2="381.80" y2="229.08" stroke="#222" stroke-width="0.8" />
<line x1="514.80" y1="229.08" x2="516.00" y2="229.08" stroke="#222" stroke-width="0.8" />
<line x1="380.60" y1="227.85" x2="381.80" y2="227.85" stroke="#222" stroke-width="0.8" />
<line x1="514.80" y1="227.85" x2="516.00" y2="227.85" stroke="#222" stroke-width="0.8" />
<line x1="380.60" y1="226.77" x2="381.80" y2="226.77" stroke="#222" stroke-width="0.8" />
<line x1="514.80" y1="226.77" x2="516.00" y2="226.77" stroke="#222" stroke-width="0.8" />
<line x1="379.80" y1="247.00" x2="381.80" y2="247.00" stroke="#222" stroke-width="1" />
<line x1="514.80" y1="247.00" x2="516.80" y2="247.00" stroke="#222" stroke-width="1" />
<line x1="380.60" y1="225.80" x2="381.80" y2="225.80" stroke="#222" stroke-width="0.8" />
<line x1="514.80" y1="225.80" x2="516.00" y2="225.80" stroke="#222" stroke-width="0.8" />
<line x1="380.60" y1="219.42" x2="381.80" y2="219.42" stroke="#222" stroke-width="0.8" />
<line x1="514.80" y1="219.42" x2="516.00" y2="219.42" stroke="#222" stroke-width="0.8" />
<line x1="380.60" y1="215.69" x2="381.80" y2="215.69" stroke="#222" stroke-width="0.8" />
<line x1="514.80" y1="215.69" x2="516.00" y2="215.69" stroke="#222" stroke-width="0.8" />
<line x1="380.60" y1="213.04" x2="381.80" y2="213.04" stroke="#222" stroke-width="0.8" />
<line x1="514.80" y1="213.04" x2="516.00" y2="213.04" stroke="#222" stroke-width="0.8" />
<line x1="380.60" y1="210.98" x2="381.80" y2="210.98" stroke="#222" stroke-width="0.8" />
<line x1="514.80" y1="210.98" x2="516.00" y2="210.98" stroke="#222" stroke-width="0.8" />
<line x1="380.60" y1="209.30" x2="381.80" y2="209.30" stroke="#222" stroke-width="0.8" />
<line x1="514.80" y1="209.30" x2="516.00" y2="209.30" stroke="#222" stroke-width="0.8" />
<line x1="380.60" y1="207.88" x2="381.80" y2="207.88" stroke="#222" stroke-width="0.8" />
<line x1="514.80" y1="207.88" x2="516.00" y2="207.88" stroke="#222" stroke-width="0.8" />
<line x1="380.60" y1="206.65" x2="381.80" y2="206.65" stroke="#222" stroke-width="0.8" />
<line x1="514.80" y1="206.65" x2="516.00" y2="206.65" stroke="#222" stroke-width="0.8" />
<line x1="380.60" y1="205.57" x2="381.80" y2="205.57" stroke="#222" stroke-width="0.8" />
<line x1="514.80" y1="205.57" x2="516.00" y2="205.57" stroke="#222" stroke-width="0.8" />
<line x1="379.80" y1="225.80" x2="381.80" y2="225.80" stroke="#222" stroke-width="1" />
<line x1="514.80" y1="225.80" x2="516.80" y2="225.80" stroke="#222" stroke-width="1" />
<line x1="380.60" y1="204.60" x2="381.80" y2="204.60" stroke="#222" stroke-width="0.8" />
<line x1="514.80" y1="204.60" x2="516.00" y2="204.60" stroke="#222" stroke-width="0.8" />
<line x1="380.60" y1="198.22" x2="381.80" y2="198.22" stroke="#222" stroke-width="0.8" />
<line x1="514.80" y1="198.22" x2="516.00" y2="198.22" stroke="#222" stroke-width="0.8" />
<line x1="380.60" y1="194.49" x2="381.80" y2="194.49" stroke="#222" stroke-width="0.8" />
<line x1="514.80" y1="194.49" x2="516.00" y2="194.49" stroke="#222" stroke-width="0.8" />
<line x1="380.60" y1="191.84" x2="381.80" y2="191.84" stroke="#222" stroke-width="0.8" />
<line x1="514.80" y1="191.84" x2="516.00" y2="191.84" stroke="#222" stroke-width="0.8" />
<line x1="380.60" y1="189.78" x2="381.80" y2="189.78" stroke="#222" stroke-width="0.8" />
<line x1="514.80" y1="189.78" x2="516.00" y2="189.78" stroke="#222" stroke-width="0.8" />
<line x1="380.60" y1="188.10" x2="381.80" y2="188.10" stroke="#222" stroke-width="0.8" />
<line x1="514.80" y1="188.10" x2="516.00" y2="188.10" stroke="#222" stroke-width="0.8" />
<line x1="380.60" y1="186.68" x2="381.80" y2="186.68" stroke="#222" stroke-width="0.8" />
<line x1="514.80" y1="186.68" x2="516.00" y2="186.68" stroke="#222" stroke-width="0.8" />
<line x1="380.60" y1="185.45" x2="381.80" y2="185.45" stroke="#222" stroke-width="0.8" />
<line x1="514.80" y1="185.45" x2="516.00" y2="185.45" stroke="#222" stroke-width="0.8" />
<line x1="380.60" y1="184.37" x2="381.80" y2="184.37" stroke="#222" stroke-width="0.8" />
<line x1="514.80" y1="184.37" x2="516.00" y2="184.37" stroke="#222" stroke-width="0.8" />
<line x1="379.80" y1="204.60" x2="381.80" y2="204.60" stroke="#222" stroke-width="1" />
<line x1="514.80" y1="204.60" x2="516.80" y2="204.60" stroke="#222" stroke-width="1" />
<line x1="398.50" y1="268.20" x2="398.50" y2="269.70" stroke="#222" stroke-width="1" />
<line x1="398.50" y1="181.90" x2="398.50" y2="183.40" stroke="#222" stroke-width="1" />
<line x1="431.50" y1="268.20" x2="431.50" y2="269.70" stroke="#222" stroke-width="1" />
<line x1="431.50" y1="181.90" x2="431.50" y2="183.40" stroke="#222" stroke-width="1" />
<line x1="465.00" y1="268.20" x2="465.00" y2="269.70" stroke="#222" stroke-width="1" />
<line x1="465.00" y1="181.90" x2="465.00" y2="183.40" stroke="#222" stroke-width="1" />
<line x1="497.80" y1="268.20" x2="497.80" y2="269.70" stroke="#222" stroke-width="1" />
<line x1="497.80" y1="181.90" x2="497.80" y2="183.40" stroke="#222" stroke-width="1" />
<text x="44.80" y="278.70" font-size="7.6" text-anchor="middle" fill="#111" stroke="#111" stroke-width="0.15" >0</text>
<text x="77.50" y="278.70" font-size="7.6" text-anchor="middle" fill="#111" stroke="#111" stroke-width="0.15" >3</text>
<text x="109.80" y="278.70" font-size="7.6" text-anchor="middle" fill="#111" stroke="#111" stroke-width="0.15" >6</text>
<text x="142.50" y="278.70" font-size="7.6" text-anchor="middle" fill="#111" stroke="#111" stroke-width="0.15" >12</text>
<text x="220.60" y="277.90" font-size="7.6" text-anchor="middle" fill="#111" stroke="#111" stroke-width="0.15" >0</text>
<text x="253.60" y="277.90" font-size="7.6" text-anchor="middle" fill="#111" stroke="#111" stroke-width="0.15" >3</text>
<text x="287.00" y="277.90" font-size="7.6" text-anchor="middle" fill="#111" stroke="#111" stroke-width="0.15" >6</text>
<text x="319.80" y="277.90" font-size="7.6" text-anchor="middle" fill="#111" stroke="#111" stroke-width="0.15" >12</text>
<text x="398.80" y="278.10" font-size="7.6" text-anchor="middle" fill="#111" stroke="#111" stroke-width="0.15" >0</text>
<text x="431.80" y="278.10" font-size="7.6" text-anchor="middle" fill="#111" stroke="#111" stroke-width="0.15" >3</text>
<text x="465.30" y="278.10" font-size="7.6" text-anchor="middle" fill="#111" stroke="#111" stroke-width="0.15" >6</text>
<text x="498.10" y="278.10" font-size="7.6" text-anchor="middle" fill="#111" stroke="#111" stroke-width="0.15" >12</text>
<text x="20.30" y="186.60" font-size="7.6" text-anchor="end" fill="#111" stroke="#111" stroke-width="0.15" >10</text>
<text x="20.50" y="185.00" font-size="5.2" text-anchor="start" fill="#111" stroke="#111" stroke-width="0.15" >5</text>
<text x="20.30" y="214.93" font-size="7.6" text-anchor="end" fill="#111" stroke="#111" stroke-width="0.15" >10</text>
<text x="20.50" y="213.33" font-size="5.2" text-anchor="start" fill="#111" stroke="#111" stroke-width="0.15" >4</text>
<text x="20.30" y="243.27" font-size="7.6" text-anchor="end" fill="#111" stroke="#111" stroke-width="0.15" >10</text>
<text x="20.50" y="241.67" font-size="5.2" text-anchor="start" fill="#111" stroke="#111" stroke-width="0.15" >3</text>
<text x="20.30" y="271.60" font-size="7.6" text-anchor="end" fill="#111" stroke="#111" stroke-width="0.15" >10</text>
<text x="20.50" y="270.00" font-size="5.2" text-anchor="start" fill="#111" stroke="#111" stroke-width="0.15" >2</text>
<text x="199.00" y="187.00" font-size="7.6" text-anchor="end" fill="#111" stroke="#111" stroke-width="0.15" >10</text>
<text x="199.20" y="185.40" font-size="5.2" text-anchor="start" fill="#111" stroke="#111" stroke-width="0.15" >4</text>
<text x="199.00" y="208.20" font-size="7.6" text-anchor="end" fill="#111" stroke="#111" stroke-width="0.15" >10</text>
<text x="199.20" y="206.60" font-size="5.2" text-anchor="start" fill="#111" stroke="#111" stroke-width="0.15" >3</text>
<text x="198.80" y="229.40" font-size="7.6" text-anchor="end" fill="#111" stroke="#111" stroke-width="0.15" >10</text>
<text x="199.00" y="227.80" font-size="5.2" text-anchor="start" fill="#111" stroke="#111" stroke-width="0.15" >2</text>
<text x="198.80" y="250.60" font-size="7.6" text-anchor="end" fill="#111" stroke="#111" stroke-width="0.15" >10</text>
<text x="196.50" y="271.80" font-size="7.6" text-anchor="end" fill="#111" stroke="#111" stroke-width="0.15" >1</text>
<text x="376.10" y="186.90" font-size="7.6" text-anchor="end" fill="#111" stroke="#111" stroke-width="0.15" >10</text>
<text x="376.30" y="185.30" font-size="5.2" text-anchor="start" fill="#111" stroke="#111" stroke-width="0.15" >3</text>
<text x="376.10" y="208.10" font-size="7.6" text-anchor="end" fill="#111" stroke="#111" stroke-width="0.15" >10</text>
<text x="376.30" y="206.50" font-size="5.2" text-anchor="start" fill="#111" stroke="#111" stroke-width="0.15" >2</text>
<text x="377.70" y="229.30" font-size="7.6" text-anchor="end" fill="#111" stroke="#111" stroke-width="0.15" >10</text>
<text x="377.90" y="227.70" font-size="5.2" text-anchor="start" fill="#111" stroke="#111" stroke-width="0.15" >1</text>
<text x="378.60" y="250.50" font-size="7.6" text-anchor="end" fill="#111" stroke="#111" stroke-width="0.15" >1</text>
<text x="378.40" y="271.70" font-size="7.6" text-anchor="end" fill="#111" stroke="#111" stroke-width="0.15" >.1</text>
<line x1="44.50" y1="219.00" x2="44.50" y2="229.10" stroke="#000" stroke-width="1.5" />
<line x1="43.10" y1="219.00" x2="45.90" y2="219.00" stroke="#000" stroke-width="1" />
<line x1="43.10" y1="229.10" x2="45.90" y2="229.10" stroke="#000" stroke-width="1" />
<line x1="77.20" y1="233.30" x2="77.20" y2="256.60" stroke="#000" stroke-width="1.5" />
<line x1="75.80" y1="233.30" x2="78.60" y2="233.30" stroke="#000" stroke-width="1" />
<line x1="75.80" y1="256.60" x2="78.60" y2="256.60" stroke="#000" stroke-width="1" />
<line x1="109.50" y1="223.20" x2="109.50" y2="238.00" stroke="#000" stroke-width="1.5" />
<line x1="108.10" y1="223.20" x2="110.90" y2="223.20" stroke="#000" stroke-width="1" />
<line x1="108.10" y1="238.00" x2="110.90" y2="238.00" stroke="#000" stroke-width="1" />
<line x1="142.20" y1="201.60" x2="142.20" y2="226.00" stroke="#000" stroke-width="1.5" />
<line x1="140.80" y1="201.60" x2="143.60" y2="201.60" stroke="#000" stroke-width="1" />
<line x1="140.80" y1="226.00" x2="143.60" y2="226.00" stroke="#000" stroke-width="1" />
<polyline points="44.50,221.90 77.20,240.00 109.50,228.80 142.20,208.80" fill="none" stroke="#000" stroke-width="1.8" stroke-dasharray="3.8,2.9"/>
<circle cx="44.50" cy="221.90" r="2.6" fill="#000"/>
<circle cx="77.20" cy="240.00" r="2.6" fill="#000"/>
<circle cx="109.50" cy="228.80" r="2.6" fill="#000"/>
<circle cx="142.20" cy="208.80" r="2.6" fill="#000"/>
<line x1="44.50" y1="213.30" x2="44.50" y2="221.00" stroke="#7e7e7e" stroke-width="1.3" />
<line x1="43.20" y1="213.30" x2="45.80" y2="213.30" stroke="#7e7e7e" stroke-width="1" />
<line x1="43.20" y1="221.00" x2="45.80" y2="221.00" stroke="#7e7e7e" stroke-width="1" />
<line x1="77.20" y1="236.00" x2="77.20" y2="246.00" stroke="#7e7e7e" stroke-width="1.3" />
<line x1="75.90" y1="236.00" x2="78.50" y2="236.00" stroke="#7e7e7e" stroke-width="1" />
<line x1="75.90" y1="246.00" x2="78.50" y2="246.00" stroke="#7e7e7e" stroke-width="1" />
<line x1="109.50" y1="247.80" x2="109.50" y2="260.10" stroke="#7e7e7e" stroke-width="1.3" />
<line x1="108.20" y1="247.80" x2="110.80" y2="247.80" stroke="#7e7e7e" stroke-width="1" />
<line x1="108.20" y1="260.10" x2="110.80" y2="260.10" stroke="#7e7e7e" stroke-width="1" />
<line x1="142.20" y1="216.00" x2="142.20" y2="239.80" stroke="#7e7e7e" stroke-width="1.3" />
<line x1="140.90" y1="216.00" x2="143.50" y2="216.00" stroke="#7e7e7e" stroke-width="1" />
<line x1="140.90" y1="239.80" x2="143.50" y2="239.80" stroke="#7e7e7e" stroke-width="1" />
<polyline points="44.50,217.10 77.20,240.20 109.50,252.50 142.20,224.60" fill="none" stroke="#7e7e7e" stroke-width="1.5"/>
<circle cx="44.50" cy="217.10" r="2.5" fill="#7e7e7e"/>
<circle cx="77.20" cy="240.20" r="2.5" fill="#7e7e7e"/>
<circle cx="109.50" cy="252.50" r="2.5" fill="#7e7e7e"/>
<circle cx="142.20" cy="224.60" r="2.5" fill="#7e7e7e"/>
<line x1="109.90" y1="216.00" x2="109.90" y2="213.00" stroke="#000" stroke-width="1.4" stroke-linecap="round"/>
<line x1="109.90" y1="216.00" x2="112.75" y2="215.07" stroke="#000" stroke-width="1.4" stroke-linecap="round"/>
<line x1="109.90" y1="216.00" x2="107.05" y2="215.07" stroke="#000" stroke-width="1.4" stroke-linecap="round"/>
<line x1="109.90" y1="216.00" x2="111.66" y2="218.43" stroke="#000" stroke-width="1.4" stroke-linecap="round"/>
<line x1="109.90" y1="216.00" x2="108.14" y2="218.43" stroke="#000" stroke-width="1.4" stroke-linecap="round"/>
<line x1="220.30" y1="213.70" x2="220.30" y2="222.30" stroke="#000" stroke-width="1.5" />
<line x1="218.90" y1="213.70" x2="221.70" y2="213.70" stroke="#000" stroke-width="1" />
<line x1="218.90" y1="222.30" x2="221.70" y2="222.30" stroke="#000" stroke-width="1" />
<line x1="253.30" y1="220.50" x2="253.30" y2="246.70" stroke="#000" stroke-width="1.5" />
<line x1="251.90" y1="220.50" x2="254.70" y2="220.50" stroke="#000" stroke-width="1" />
<line x1="251.90" y1="246.70" x2="254.70" y2="246.70" stroke="#000" stroke-width="1" />
<line x1="286.70" y1="210.00" x2="286.70" y2="235.00" stroke="#000" stroke-width="1.5" />
<line x1="285.30" y1="210.00" x2="288.10" y2="210.00" stroke="#000" stroke-width="1" />
<line x1="285.30" y1="235.00" x2="288.10" y2="235.00" stroke="#000" stroke-width="1" />
<line x1="319.50" y1="204.00" x2="319.50" y2="214.00" stroke="#000" stroke-width="1.5" />
<line x1="318.10" y1="204.00" x2="320.90" y2="204.00" stroke="#000" stroke-width="1" />
<line x1="318.10" y1="214.00" x2="320.90" y2="214.00" stroke="#000" stroke-width="1" />
<polyline points="220.30,217.30 253.30,226.50 286.70,215.70 319.50,208.50" fill="none" stroke="#000" stroke-width="1.8" stroke-dasharray="3.8,2.9"/>
<circle cx="220.30" cy="217.30" r="2.6" fill="#000"/>
<circle cx="253.30" cy="226.50" r="2.6" fill="#000"/>
<circle cx="286.70" cy="215.70" r="2.6" fill="#000"/>
<circle cx="319.50" cy="208.50" r="2.6" fill="#000"/>
<line x1="220.30" y1="213.70" x2="220.30" y2="222.30" stroke="#7e7e7e" stroke-width="1.3" />
<line x1="219.00" y1="213.70" x2="221.60" y2="213.70" stroke="#7e7e7e" stroke-width="1" />
<line x1="219.00" y1="222.30" x2="221.60" y2="222.30" stroke="#7e7e7e" stroke-width="1" />
<line x1="253.30" y1="229.00" x2="253.30" y2="246.10" stroke="#7e7e7e" stroke-width="1.3" />
<line x1="252.00" y1="229.00" x2="254.60" y2="229.00" stroke="#7e7e7e" stroke-width="1" />
<line x1="252.00" y1="246.10" x2="254.60" y2="246.10" stroke="#7e7e7e" stroke-width="1" />
<line x1="286.70" y1="239.30" x2="286.70" y2="255.10" stroke="#7e7e7e" stroke-width="1.3" />
<line x1="285.40" y1="239.30" x2="288.00" y2="239.30" stroke="#7e7e7e" stroke-width="1" />
<line x1="285.40" y1="255.10" x2="288.00" y2="255.10" stroke="#7e7e7e" stroke-width="1" />
<line x1="319.50" y1="203.80" x2="319.50" y2="218.20" stroke="#7e7e7e" stroke-width="1.3" />
<line x1="318.20" y1="203.80" x2="320.80" y2="203.80" stroke="#7e7e7e" stroke-width="1" />
<line x1="318.20" y1="218.20" x2="320.80" y2="218.20" stroke="#7e7e7e" stroke-width="1" />
<polyline points="220.30,217.30 253.30,234.30 286.70,244.60 319.50,208.50" fill="none" stroke="#7e7e7e" stroke-width="1.5"/>
<circle cx="220.30" cy="217.30" r="2.5" fill="#7e7e7e"/>
<circle cx="253.30" cy="234.30" r="2.5" fill="#7e7e7e"/>
<circle cx="286.70" cy="244.60" r="2.5" fill="#7e7e7e"/>
<circle cx="319.50" cy="208.50" r="2.5" fill="#7e7e7e"/>
<line x1="286.80" y1="204.70" x2="286.80" y2="201.70" stroke="#000" stroke-width="1.4" stroke-linecap="round"/>
<line x1="286.80" y1="204.70" x2="289.65" y2="203.77" stroke="#000" stroke-width="1.4" stroke-linecap="round"/>
<line x1="286.80" y1="204.70" x2="283.95" y2="203.77" stroke="#000" stroke-width="1.4" stroke-linecap="round"/>
<line x1="286.80" y1="204.70" x2="288.56" y2="207.13" stroke="#000" stroke-width="1.4" stroke-linecap="round"/>
<line x1="286.80" y1="204.70" x2="285.04" y2="207.13" stroke="#000" stroke-width="1.4" stroke-linecap="round"/>
<line x1="398.50" y1="206.10" x2="398.50" y2="215.00" stroke="#000" stroke-width="1.5" />
<line x1="397.10" y1="206.10" x2="399.90" y2="206.10" stroke="#000" stroke-width="1" />
<line x1="397.10" y1="215.00" x2="399.90" y2="215.00" stroke="#000" stroke-width="1" />
<line x1="431.50" y1="228.00" x2="431.50" y2="240.80" stroke="#000" stroke-width="1.5" />
<line x1="430.10" y1="228.00" x2="432.90" y2="228.00" stroke="#000" stroke-width="1" />
<line x1="430.10" y1="240.80" x2="432.90" y2="240.80" stroke="#000" stroke-width="1" />
<line x1="465.00" y1="216.00" x2="465.00" y2="232.00" stroke="#000" stroke-width="1.5" />
<line x1="463.60" y1="216.00" x2="466.40" y2="216.00" stroke="#000" stroke-width="1" />
<line x1="463.60" y1="232.00" x2="466.40" y2="232.00" stroke="#000" stroke-width="1" />
<line x1="497.80" y1="209.80" x2="497.80" y2="232.60" stroke="#000" stroke-width="1.5" />
<line x1="496.40" y1="209.80" x2="499.20" y2="209.80" stroke="#000" stroke-width="1" />
<line x1="496.40" y1="232.60" x2="499.20" y2="232.60" stroke="#000" stroke-width="1" />
<polyline points="398.50,210.80 431.50,231.40 465.00,221.30 497.80,214.90" fill="none" stroke="#000" stroke-width="1.8" stroke-dasharray="3.8,2.9"/>
<circle cx="398.50" cy="210.80" r="2.6" fill="#000"/>
<circle cx="431.50" cy="231.40" r="2.6" fill="#000"/>
<circle cx="465.00" cy="221.30" r="2.6" fill="#000"/>
<circle cx="497.80" cy="214.90" r="2.6" fill="#000"/>
<line x1="398.50" y1="212.00" x2="398.50" y2="225.00" stroke="#7e7e7e" stroke-width="1.3" />
<line x1="397.20" y1="212.00" x2="399.80" y2="212.00" stroke="#7e7e7e" stroke-width="1" />
<line x1="397.20" y1="225.00" x2="399.80" y2="225.00" stroke="#7e7e7e" stroke-width="1" />
<line x1="431.50" y1="223.00" x2="431.50" y2="230.00" stroke="#7e7e7e" stroke-width="1.3" />
<line x1="430.20" y1="223.00" x2="432.80" y2="223.00" stroke="#7e7e7e" stroke-width="1" />
<line x1="430.20" y1="230.00" x2="432.80" y2="230.00" stroke="#7e7e7e" stroke-width="1" />
<line x1="465.00" y1="215.60" x2="465.00" y2="222.00" stroke="#7e7e7e" stroke-width="1.3" />
<line x1="463.70" y1="215.60" x2="466.30" y2="215.60" stroke="#7e7e7e" stroke-width="1" />
<line x1="463.70" y1="222.00" x2="466.30" y2="222.00" stroke="#7e7e7e" stroke-width="1" />
<line x1="497.80" y1="242.30" x2="497.80" y2="247.40" stroke="#7e7e7e" stroke-width="1.3" />
<line x1="496.50" y1="242.30" x2="499.10" y2="242.30" stroke="#7e7e7e" stroke-width="1" />
<line x1="496.50" y1="247.40" x2="499.10" y2="247.40" stroke="#7e7e7e" stroke-width="1" />
<polyline points="398.50,217.30 431.50,226.50 465.00,218.60 497.80,244.40" fill="none" stroke="#7e7e7e" stroke-width="1.5"/>
<circle cx="398.50" cy="217.30" r="2.5" fill="#7e7e7e"/>
<circle cx="431.50" cy="226.50" r="2.5" fill="#7e7e7e"/>
<circle cx="465.00" cy="218.60" r="2.5" fill="#7e7e7e"/>
<circle cx="497.80" cy="244.40" r="2.5" fill="#7e7e7e"/>
</g>
</svg>
</body></html>
